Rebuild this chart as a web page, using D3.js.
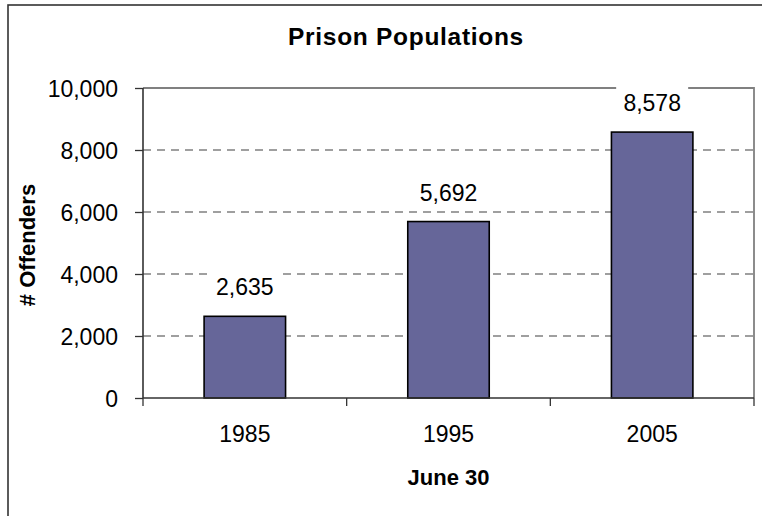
<!DOCTYPE html>
<html>
<head>
<meta charset="utf-8">
<script src="https://cdn.jsdelivr.net/npm/d3@7"></script>
<style>
html,body{margin:0;padding:0;background:#fff;}
svg{display:block;font-family:"Liberation Sans",Arial,sans-serif;}
</style>
</head>
<body>
<svg id="chart" width="762" height="516"></svg>
<script>
const categories = ["1985", "1995", "2005"];
const values = [2635, 5692, 8578];
const yTicks = [0, 2000, 4000, 6000, 8000, 10000];
const title = "Prison Populations";
const xTitle = "June 30";
const yTitle = "# Offenders";

const svg = d3.select("#chart");
const L = 143, R = 754, T = 88, B = 398;

// outer frame (extends beyond the visible area on right/bottom)
svg.append("rect").attr("x", 8).attr("y", 5).attr("width", 800).attr("height", 560)
  .attr("fill", "#fff").attr("stroke", "#333").attr("stroke-width", 1.6);

const x = d3.scaleBand().domain(categories).range([L, R]).paddingInner(0.6).paddingOuter(0.3);
const y = d3.scaleLinear().domain([0, 10000]).range([B, T]);

// gridlines
svg.append("g").selectAll("line").data(yTicks.filter(d => d > 0 && d < 10000)).join("line")
  .attr("x1", L).attr("x2", R).attr("y1", d => y(d)).attr("y2", d => y(d))
  .attr("stroke", "#808080").attr("stroke-width", 1.5).attr("stroke-dasharray", "8,6");

// plot border top & right
svg.append("path").attr("d", `M${L},${T}H${R}V${B}`).attr("fill", "none")
  .attr("stroke", "#808080").attr("stroke-width", 1.8);

// bars
svg.append("g").selectAll("rect").data(values).join("rect")
  .attr("x", (d, i) => x(categories[i])).attr("width", x.bandwidth())
  .attr("y", d => y(d)).attr("height", d => y(0) - y(d))
  .attr("fill", "#666699").attr("stroke", "#000").attr("stroke-width", 1.6);

// y axis
const yAxis = d3.axisLeft(y).tickValues(yTicks).tickSize(8).tickPadding(17)
  .tickFormat(d3.format(","));
const gy = svg.append("g").attr("transform", `translate(${L},0)`).call(yAxis);
gy.select(".domain").attr("stroke", "#333").attr("stroke-width", 1.6).attr("d", `M0,${T}V${B}`);
gy.selectAll(".tick line").attr("stroke", "#333").attr("stroke-width", 1.3);
gy.selectAll(".tick text").attr("font-size", 23).attr("fill", "#000")
  .attr("font-family", "Liberation Sans, Arial, sans-serif").attr("dy", "0.36em");

// x axis
const xAxis = d3.axisBottom(x).tickSize(0).tickPadding(28);
const gx = svg.append("g").attr("transform", `translate(0,${B})`).call(xAxis);
gx.select(".domain").attr("stroke", "#333").attr("stroke-width", 1.6).attr("d", `M${L},0H${R}`);
gx.selectAll(".tick text").attr("font-size", 23).attr("fill", "#000")
  .attr("font-family", "Liberation Sans, Arial, sans-serif").attr("dy", "0.71em");
// category separator ticks
const step = x.step();
const sepPos = d3.range(categories.length + 1).map(i => L + i * step);
svg.append("g").selectAll("line").data(sepPos).join("line")
  .attr("x1", d => d).attr("x2", d => d).attr("y1", B).attr("y2", B + 8)
  .attr("stroke", "#333").attr("stroke-width", 1.3);

// data labels
const lg = svg.append("g").selectAll("g").data(values).join("g")
  .attr("transform", (d, i) => `translate(${x(categories[i]) + x.bandwidth() / 2},${y(d) - 21})`);
lg.append("rect").attr("x", -36).attr("y", -26).attr("width", 72).attr("height", 32).attr("fill", "#fff");
lg.append("text").attr("text-anchor", "middle").attr("font-size", 23).attr("fill", "#000")
  .text(d => d3.format(",")(d));

// titles
svg.append("text").attr("x", 406).attr("y", 45).attr("text-anchor", "middle")
  .attr("font-size", 24.5).attr("font-weight", "bold").attr("letter-spacing", 0.7).text(title);
svg.append("text").attr("x", (L + R) / 2).attr("y", 485).attr("text-anchor", "middle")
  .attr("font-size", 22).attr("font-weight", "bold").text(xTitle);
svg.append("text").attr("transform", `translate(35,${(T + B) / 2 + 2}) rotate(-90)`)
  .attr("text-anchor", "middle").attr("font-size", 22).attr("font-weight", "bold").text(yTitle);
</script>
</body>
</html>
